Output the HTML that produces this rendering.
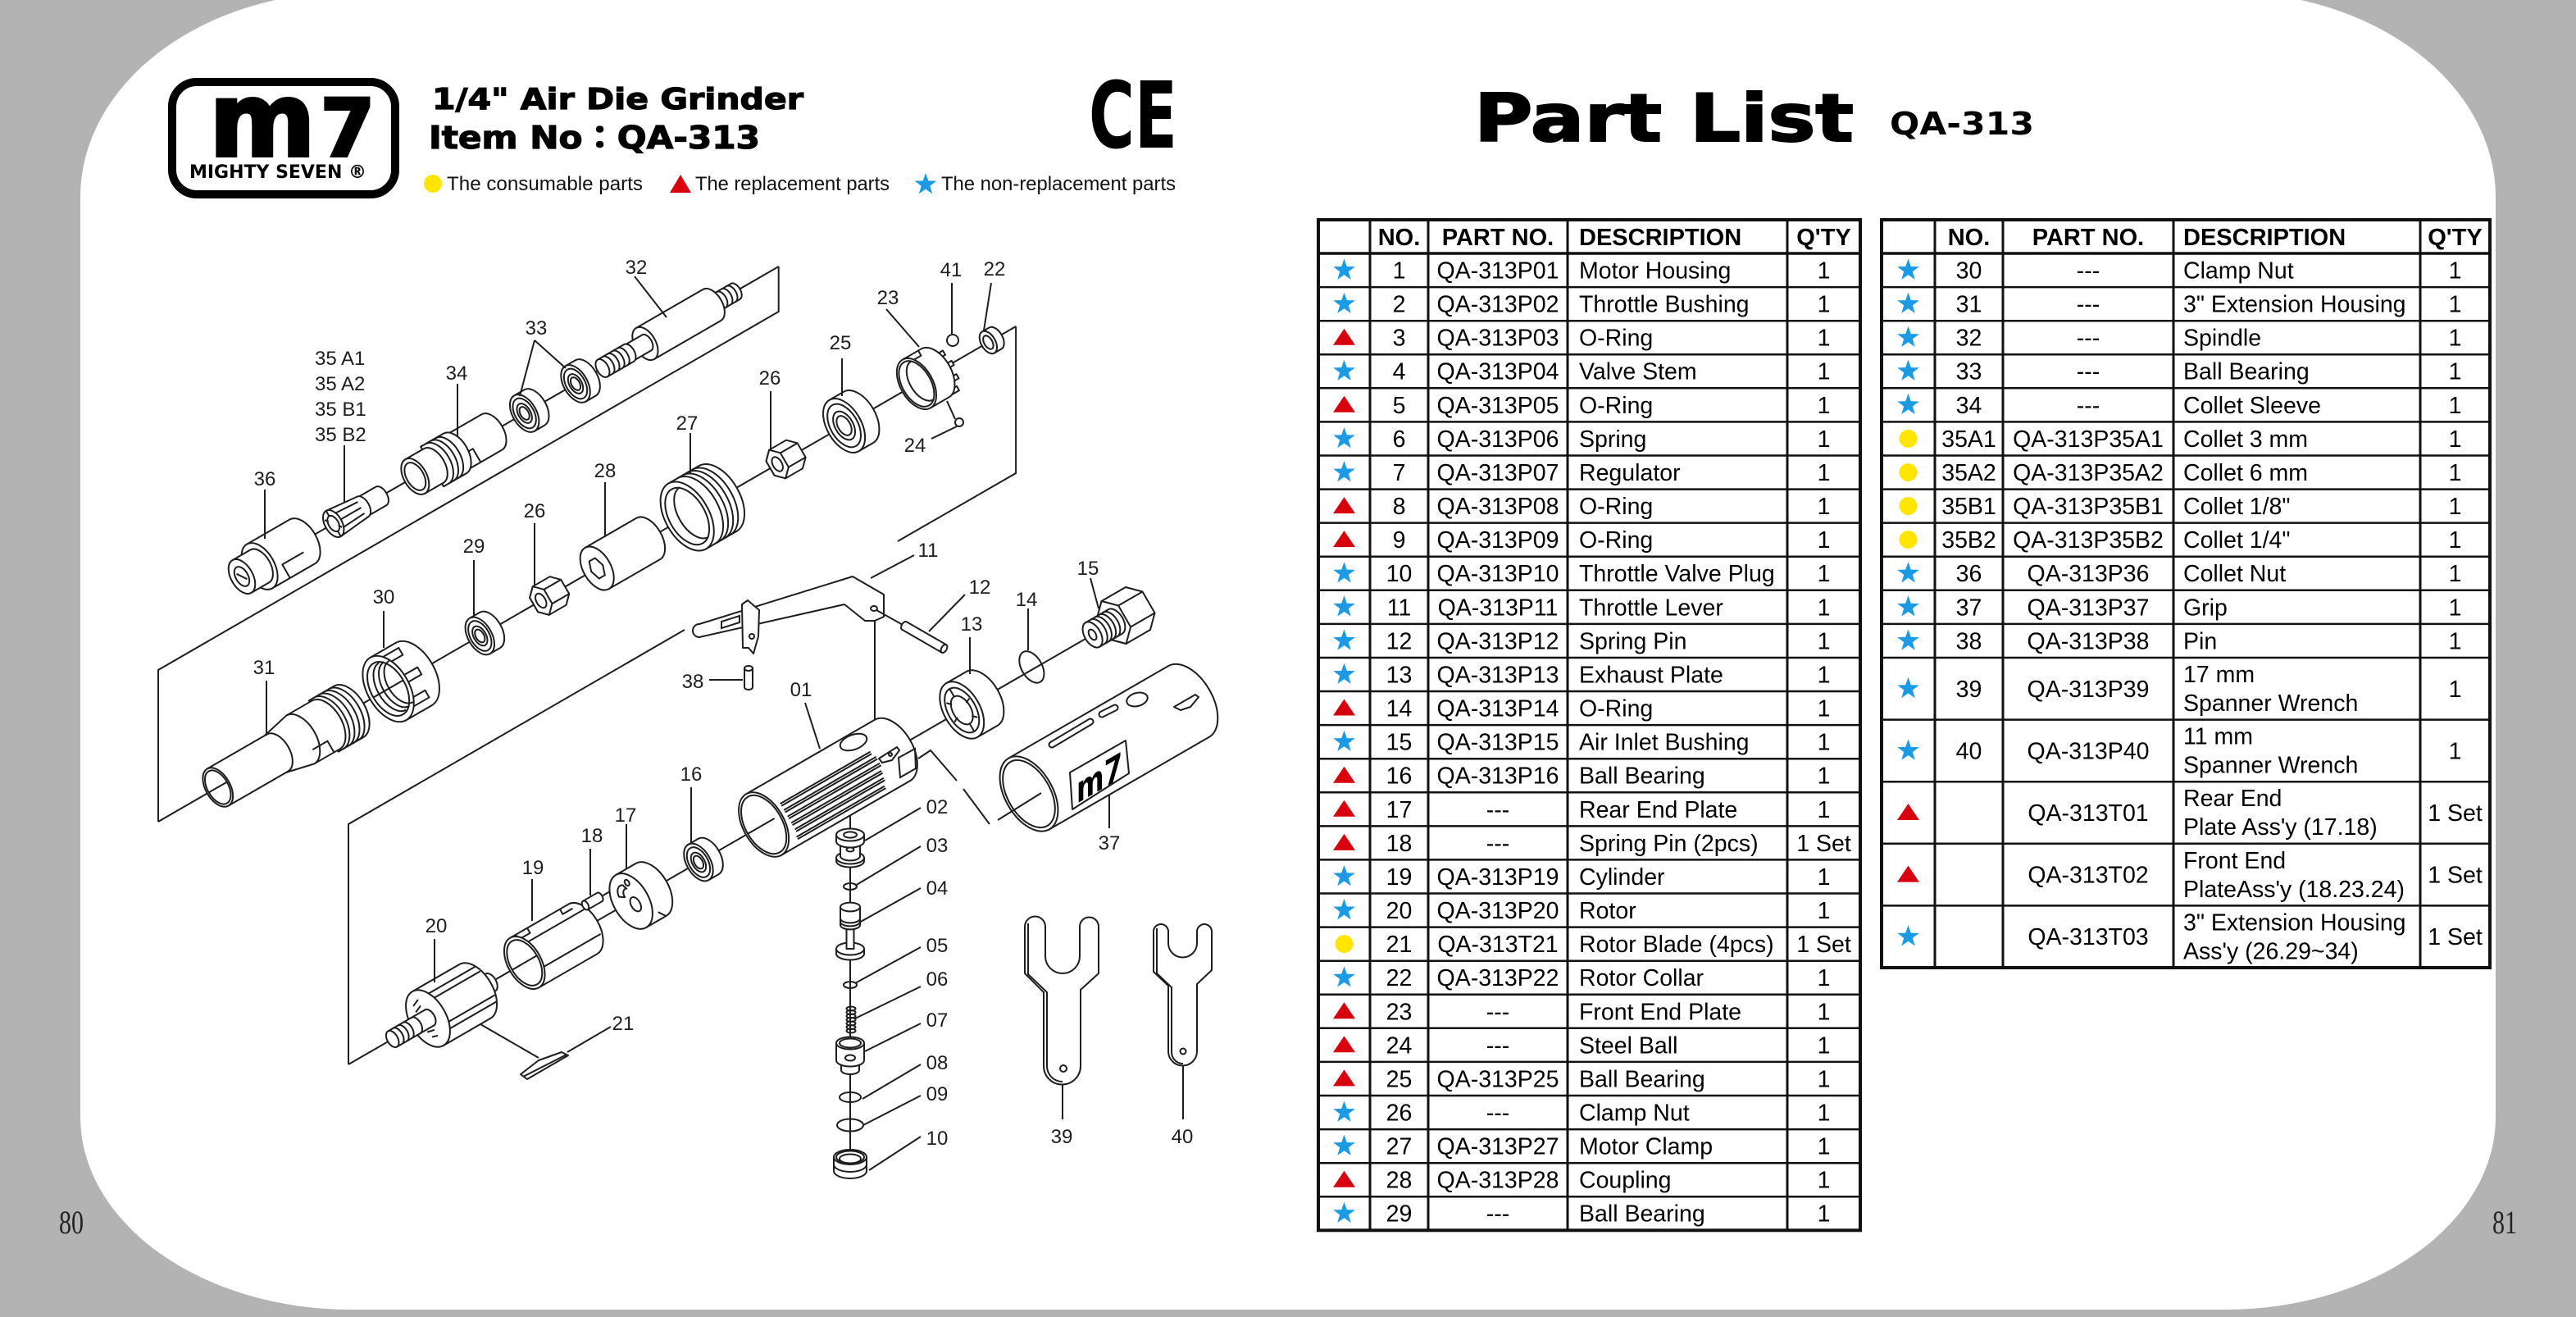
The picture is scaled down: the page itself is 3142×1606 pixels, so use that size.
<!DOCTYPE html>
<html><head><meta charset="utf-8">
<style>
html,body{margin:0;padding:0;width:3142px;height:1606px;overflow:hidden;background:#b3b3b3}
svg{display:block}
.d{fill:#fff;stroke:#1e1e1e;stroke-width:2;stroke-linejoin:round}
.n{fill:none;stroke:#1e1e1e;stroke-width:2}
.lbl{font-family:"Liberation Sans",Arial,sans-serif;font-size:24px;fill:#1e1e1e;text-anchor:middle}
.lbll{font-family:"Liberation Sans",Arial,sans-serif;font-size:24px;fill:#1e1e1e}
.t{font-family:"Liberation Sans",Arial,sans-serif;font-size:28.5px;fill:#000}
.c{text-anchor:middle}
.th{font-family:"Liberation Sans",Arial,sans-serif;font-size:29px;font-weight:bold;fill:#000}
</style></head>
<body>
<svg width="3142" height="1606" viewBox="0 0 3142 1606" xmlns="http://www.w3.org/2000/svg">
<defs>
<polygon id="star" points="0,-14 3.29,-4.53 13.31,-4.33 5.33,1.73 8.23,11.33 0,5.6 -8.23,11.33 -5.33,1.73 -13.31,-4.33 -3.29,-4.53" fill="#1c9be4"/>
<polygon id="tri" points="0,-11 13.5,9 -13.5,9" fill="#d7000f"/>
<circle id="dot" r="11" fill="#ffe500"/>
</defs>
<rect x="0" y="0" width="3142" height="1606" fill="#b3b3b3"/>
<path d="M98,240 A330,250 0 0 1 428,-10 L2714,-10 A330,250 0 0 1 3044,240 L3044,1362 A330,235 0 0 1 2714,1597 L428,1597 A330,235 0 0 1 98,1362 Z" fill="#fff"/>

<text x="72" y="1504" font-family="Liberation Serif, serif" font-size="40" fill="#222" textLength="30" lengthAdjust="spacingAndGlyphs">80</text>
<text x="3040" y="1504" font-family="Liberation Serif, serif" font-size="40" fill="#222" textLength="30" lengthAdjust="spacingAndGlyphs">81</text>

<rect x="210" y="100" width="272" height="137" rx="30" ry="30" fill="#fff" stroke="#000" stroke-width="10"/>
<text x="255" y="190" font-family="DejaVu Sans, sans-serif" font-weight="bold" font-size="125" fill="#000" stroke="#000" stroke-width="4" textLength="130" lengthAdjust="spacingAndGlyphs">m</text>
<text x="391" y="190" font-family="DejaVu Sans, sans-serif" font-weight="bold" font-size="96" fill="#000" stroke="#000" stroke-width="4" textLength="66" lengthAdjust="spacingAndGlyphs">7</text>
<text x="231" y="217" font-family="DejaVu Sans, sans-serif" font-weight="bold" font-size="22" fill="#000" textLength="216" lengthAdjust="spacingAndGlyphs">MIGHTY SEVEN ®</text>

<text x="527" y="133" font-family="DejaVu Sans, sans-serif" font-weight="bold" font-size="36" fill="#000" stroke="#000" stroke-width="1.2" textLength="453" lengthAdjust="spacingAndGlyphs">1/4&quot; Air Die Grinder</text>
<text x="523" y="181" font-family="DejaVu Sans, 'Noto Sans CJK JP', sans-serif" font-weight="bold" font-size="38" fill="#000" stroke="#000" stroke-width="1.2" textLength="404" lengthAdjust="spacingAndGlyphs">Item No：QA-313</text>
<text x="1328" y="180" font-family="DejaVu Sans, sans-serif" font-weight="bold" font-size="112" fill="#000" textLength="108" lengthAdjust="spacingAndGlyphs">CE</text>

<circle cx="528" cy="224" r="11" fill="#ffe500"/>
<text x="545" y="232" font-family="Liberation Sans, sans-serif" font-size="24" fill="#111" textLength="239" lengthAdjust="spacingAndGlyphs">The consumable parts</text>
<polygon points="830,213 843,235 817,235" fill="#d7000f"/>
<text x="848" y="232" font-family="Liberation Sans, sans-serif" font-size="24" fill="#111" textLength="237" lengthAdjust="spacingAndGlyphs">The replacement parts</text>
<use href="#star" x="1129" y="225"/>
<text x="1148" y="232" font-family="Liberation Sans, sans-serif" font-size="24" fill="#111" textLength="286" lengthAdjust="spacingAndGlyphs">The non-replacement parts</text>

<text x="1798" y="172" font-family="DejaVu Sans, sans-serif" font-weight="bold" font-size="80" fill="#000" stroke="#000" stroke-width="2" textLength="463" lengthAdjust="spacingAndGlyphs">Part List</text>
<text x="2305" y="164" font-family="DejaVu Sans, sans-serif" font-weight="bold" font-size="38" fill="#000" textLength="176" lengthAdjust="spacingAndGlyphs">QA-313</text>

<path class="n" d="M949.7,325V380L193,817V1002"/>
<path class="n" d="M1239.1,398V577L1095,660"/>
<path class="n" d="M835,768L425,1005V1298"/>
<path class="n" d="M1067,757V884"/>
<path class="n" d="M1037,994V1420"/>
<path class="n" d="M732,1094L756,1080"/>
<path class="n" d="M567,1238L657,1290"/>

<g class="d" transform="translate(295,703) rotate(-30)">
<line class="n" x1="0" y1="0" x2="756" y2="0"/>
<path d="M25,-31L85,-31A18,31 0 0 1 85,31L25,31Z"/>
<path class="n" d="M50,31L50,12L80,12"/>
<ellipse cx="25" cy="0" rx="18" ry="31"/>
<path d="M0,-23L25,-23A13.3,23 0 0 1 25,23L0,23Z"/>
<ellipse cx="0" cy="0" rx="13.3" ry="23"/>
<ellipse cx="0" cy="0" rx="7.5" ry="13"/>
<path class="n" d="M-4,-6L4,6"/>
<path d="M168,-13L196,-13A7.5,13 0 0 1 196,13L168,13Z"/>
<path d="M129,-18L170,-14A8.1,14 0 0 1 170,14L129,18Z"/>
<path class="n" d="M136,-10L168,-8M136,0L168,0M136,10L168,8"/>
<ellipse cx="129" cy="0" rx="10.4" ry="18"/>
<ellipse cx="129" cy="0" rx="6" ry="10.5"/>
<path class="n" d="M129,-18L129,-10.5M129,10.5L129,18M122,-9L125,-5M136,9L133,5"/>
<path d="M298,-25L352,-25A14.5,25 0 0 1 352,25L298,25Z"/>
<path class="n" d="M304,25L304,6L322,6L322,25"/>
<path d="M268,-28L300,-28A16.2,28 0 0 1 300,28L268,28Z"/>
<path class="n" d="M275,-28A16.2,28 0 0 1 275,28M282,-28A16.2,28 0 0 1 282,28M289,-28A16.2,28 0 0 1 289,28"/>
<path d="M244,-24L270,-24A13.9,24 0 0 1 270,24L244,24Z"/>
<ellipse cx="244" cy="0" rx="13.9" ry="24"/>
<ellipse cx="244" cy="0" rx="10.5" ry="18.5"/>
<path d="M398,-25L412,-25A14.5,25 0 0 1 412,25L398,25Z"/>
<ellipse cx="398" cy="0" rx="14.5" ry="25"/>
<ellipse class="n" cx="398" cy="0" rx="11.6" ry="20"/>
<ellipse class="n" cx="398" cy="0" rx="7.5" ry="13"/>
<ellipse class="n" cx="398" cy="0" rx="5" ry="8.6"/>
<path d="M470,-25L484,-25A14.5,25 0 0 1 484,25L470,25Z"/>
<ellipse cx="470" cy="0" rx="14.5" ry="25"/>
<ellipse class="n" cx="470" cy="0" rx="11.6" ry="20"/>
<ellipse class="n" cx="470" cy="0" rx="7.5" ry="13"/>
<ellipse class="n" cx="470" cy="0" rx="5" ry="8.6"/>
<path d="M660,-11L695,-11A6.4,11 0 0 1 695,11L660,11Z"/>
<path class="n" d="M668,-11A6.4,11 0 0 1 668,11M675,-11A6.4,11 0 0 1 675,11M682,-11A6.4,11 0 0 1 682,11M689,-11A6.4,11 0 0 1 689,11"/>
<path d="M568,-22L662,-22A12.8,22 0 0 1 662,22L568,22Z"/>
<ellipse cx="568" cy="0" rx="12.8" ry="22"/>
<path d="M540,-11L570,-11A6.4,11 0 0 1 570,11L540,11Z"/>
<path d="M508,-12L545,-12A7,12 0 0 1 545,12L508,12Z"/>
<path class="n" d="M515,-12A7,12 0 0 1 515,12M522,-12A7,12 0 0 1 522,12M529,-12A7,12 0 0 1 529,12M536,-12A7,12 0 0 1 536,12"/>
<ellipse cx="508" cy="0" rx="7" ry="12"/>
</g>

<g class="d" transform="translate(193,1002) rotate(-30)">
<line class="n" x1="0" y1="0" x2="1208" y2="0"/>
<path d="M233,-36L268,-36A20.9,36 0 0 1 268,36L233,36Z"/>
<path class="n" d="M240,-36A20.9,36 0 0 1 240,36M247,-36A20.9,36 0 0 1 247,36M254,-36A20.9,36 0 0 1 254,36M261,-36A20.9,36 0 0 1 261,36"/>
<path d="M165,-26L200,-34L236,-34A19.7,34 0 0 1 236,34L200,34L165,26Z"/>
<path class="n" d="M200,-34A19.7,34 0 0 1 200,34"/>
<path class="n" d="M207,18L228,18L228,34"/>
<path d="M84,-26L168,-26A15,26 0 0 1 168,26L84,26Z"/>
<ellipse cx="84" cy="0" rx="15" ry="26"/>
<ellipse cx="84" cy="0" rx="12.8" ry="22.5"/>
<line class="n" x1="71" y1="0" x2="96" y2="0"/>
<path d="M324,-44L360,-44A25.5,44 0 0 1 360,44L324,44Z"/>
<path class="n" d="M338,-37H360V-27H338ZM342,-5H368V5H342ZM338,24H362V34H338Z"/>
<ellipse cx="324" cy="0" rx="25.5" ry="44"/>
<ellipse class="n" cx="324" cy="0" rx="21" ry="36"/>
<path class="n" d="M330,-33A19,33 0 0 0 330,33M336,-31A18,31 0 0 0 336,31M342,-29A17,29 0 0 0 342,29"/>
<line class="n" x1="303" y1="0" x2="345" y2="0"/>
<path d="M453,-25L467,-25A14.5,25 0 0 1 467,25L453,25Z"/>
<ellipse cx="453" cy="0" rx="14.5" ry="25"/>
<ellipse class="n" cx="453" cy="0" rx="11.6" ry="20"/>
<ellipse class="n" cx="453" cy="0" rx="7.5" ry="13"/>
<ellipse class="n" cx="453" cy="0" rx="5" ry="8.6"/>
<path d="M539,20L529,10L529,-10L539,-20L563,-20L573,-10L573,10L563,20Z"/>
<path class="n" d="M549,-10L573,-10M549,10L573,10"/>
<path d="M539,20L529,10L529,-10L539,-20L549,-10L549,10Z"/>
<ellipse class="n" cx="539" cy="0" rx="5.5" ry="9.5"/>
<path d="M618,-29L690,-29A16.8,29 0 0 1 690,29L618,29Z"/>
<ellipse cx="618" cy="0" rx="16.8" ry="29"/>
<path class="n" d="M626.1,0L622.1,12.1L614,12.1L609.9,0L614,-12.1L622.1,-12.1Z"/>
<path d="M745,-46L788,-46A26.7,46 0 0 1 788,46L745,46Z"/>
<path class="n" d="M758,-46A26.7,46 0 0 1 758,46M765,-46A26.7,46 0 0 1 765,46M772,-46A26.7,46 0 0 1 772,46M779,-46A26.7,46 0 0 1 779,46"/>
<ellipse cx="745" cy="0" rx="26.7" ry="46"/>
<ellipse class="n" cx="745" cy="0" rx="22" ry="38"/>
<path class="n" d="M755,-35A20,35 0 0 0 755,35"/>
<path d="M872,20L862,10L862,-10L872,-20L896,-20L906,-10L906,10L896,20Z"/>
<path class="n" d="M882,-10L906,-10M882,10L906,10"/>
<path d="M872,20L862,10L862,-10L872,-20L882,-10L882,10Z"/>
<ellipse class="n" cx="872" cy="0" rx="5.5" ry="9.5"/>
<path d="M966,-36L986,-36A20.9,36 0 0 1 986,36L966,36Z"/>
<ellipse cx="966" cy="0" rx="20.9" ry="36"/>
<ellipse class="n" cx="966" cy="0" rx="16.7" ry="28.8"/>
<ellipse class="n" cx="966" cy="0" rx="11" ry="19"/>
<ellipse class="n" cx="966" cy="0" rx="7.5" ry="13"/>
<path d="M1106,-19h10v6h-10zM1109,-3h10v6h-10zM1106,14h10v6h-10zM1099,27h10v6h-10z"/>
<path d="M1068,-34L1094,-34A19.7,34 0 0 1 1094,34L1068,34Z"/>
<path class="n" d="M1075,-34L1075,-27L1090,-27L1090,-34"/>
<ellipse cx="1068" cy="0" rx="19.7" ry="34"/>
<ellipse class="n" cx="1068" cy="0" rx="17.5" ry="30.5"/>
<path class="n" d="M1076,-27A15.5,27 0 0 0 1076,27"/>
<path d="M1169,-15L1179,-15A8.7,15 0 0 1 1179,15L1169,15Z"/>
<ellipse cx="1169" cy="0" rx="8.7" ry="15"/>
<ellipse class="n" cx="1169" cy="0" rx="5" ry="9"/>
</g>

<g class="d" transform="translate(425,1298) rotate(-30)">
<line class="n" x1="0" y1="0" x2="1050" y2="0"/>
<path d="M176,-12L200,-12A7,12 0 0 1 200,12L176,12Z"/>
<path d="M112,-38L178,-38A22,38 0 0 1 178,38L112,38Z"/>
<path class="n" d="M112,-26L193,-26M112,-18L196,-18M112,16L197,16M112,24L195,24"/>
<ellipse cx="112" cy="0" rx="22" ry="38"/>
<path class="n" d="M104,-22L113,-26M103,-14L112,-18M103,14L112,16M105,22L112,24"/>
<path d="M90,-11L114,-11A6.4,11 0 0 1 114,11L90,11Z"/>
<path d="M62,-11L95,-11A6.4,11 0 0 1 95,11L62,11Z"/>
<path class="n" d="M69,-11A6.4,11 0 0 1 69,11M76,-11A6.4,11 0 0 1 76,11M83,-11A6.4,11 0 0 1 83,11"/>
<ellipse cx="62" cy="0" rx="6.4" ry="11"/>
<path d="M248,-35L330,-35A20.3,35 0 0 1 330,35L248,35Z"/>
<path class="n" d="M262,-20L345,-20M262,16L346,16M256,-35L256,-28L272,-28L272,-35M318,-35L318,-28L332,-28"/>
<ellipse cx="248" cy="0" rx="20.3" ry="35"/>
<ellipse class="n" cx="248" cy="0" rx="17.5" ry="30.5"/>
<line class="n" x1="231" y1="0" x2="265" y2="0"/>
<path d="M398,-37L426,-37A21.5,37 0 0 1 426,37L398,37Z"/>
<path class="n" d="M405,-37L405,-30M420,28L426,37"/>
<ellipse cx="398" cy="0" rx="21.5" ry="37"/>
<ellipse class="n" cx="401" cy="6" rx="5.5" ry="9.5"/>
<path class="n" d="M388,-12A8,13 0 0 1 399,-22L401,-16A5,8 0 0 0 394,-8Z"/>
<ellipse class="n" cx="405" cy="-22" rx="2.5" ry="4"/>
<path d="M493,-25L507,-25A14.5,25 0 0 1 507,25L493,25Z"/>
<ellipse cx="493" cy="0" rx="14.5" ry="25"/>
<ellipse class="n" cx="493" cy="0" rx="11.6" ry="20"/>
<ellipse class="n" cx="493" cy="0" rx="7.5" ry="13"/>
<ellipse class="n" cx="493" cy="0" rx="5" ry="8.6"/>
<path d="M585,-43L766,-43A25,43 0 0 1 766,43L585,43Z"/>
<path class="n" d="M615,-12H742M615,-9H742M615,-3H745M615,0H745M615,6H745M615,9H745M615,15H742M615,18H742M615,24H740M615,27H740M612,33H736M612,36H736"/>
<ellipse cx="585" cy="0" rx="25" ry="43"/>
<ellipse class="n" cx="585" cy="0" rx="22.5" ry="39"/>
<line class="n" x1="563" y1="0" x2="600" y2="0"/>
<path d="M864,-38L892,-38A22,38 0 0 1 892,38L864,38Z"/>
<ellipse cx="864" cy="0" rx="22" ry="38"/>
<ellipse class="n" cx="864" cy="0" rx="17" ry="30"/>
<ellipse class="n" cx="864" cy="0" rx="11" ry="19"/>
<path class="n" d="M864,-30L864,-19M864,19L864,30M852,-17L857,-12M876,17L871,12M849,8L855,5M879,-8L873,-5"/>
<ellipse class="n" cx="964" cy="-3" rx="12.5" ry="21"/>
<path d="M1078,30L1063,15L1063,-15L1078,-30L1112,-30L1127,-15L1127,15L1112,30Z"/>
<path class="n" d="M1093,-15L1127,-15M1093,15L1127,15"/>
<path d="M1078,30L1063,15L1063,-15L1078,-30L1093,-15L1093,15Z"/>
<path d="M1048,-17L1080,-17A9.9,17 0 0 1 1080,17L1048,17Z"/>
<path class="n" d="M1055,-17A9.9,17 0 0 1 1055,17M1061,-17A9.9,17 0 0 1 1061,17M1067,-17A9.9,17 0 0 1 1067,17M1073,-17A9.9,17 0 0 1 1073,17"/>
<ellipse cx="1048" cy="0" rx="9.9" ry="17"/>
<ellipse class="n" cx="1048" cy="0" rx="4" ry="7"/>
</g>

<ellipse class="d" cx="1041" cy="905" rx="17" ry="9" transform="rotate(-20 1041 905)"/>
<path class="d" d="M1072,925L1094,911L1097,915L1088,927L1076,930Z"/>
<circle class="n" cx="1086" cy="920" r="2"/>
<path class="n" d="M1096,924L1116,913L1117,937L1098,948Z"/>

<path class="d" d="M1020,1046L1020,1050A17,7.5 0 0 0 1054,1050L1054,1046Z"/>
<ellipse class="d" cx="1037" cy="1046" rx="17" ry="7.5"/>
<path class="d" d="M1025,1026L1025,1044A12,5.4 0 0 0 1049,1044L1049,1026Z"/>
<ellipse class="n" cx="1037" cy="1036" rx="4.5" ry="2.5"/>
<path class="d" d="M1020,1018L1020,1026A17,7.5 0 0 0 1054,1026L1054,1018Z"/>
<ellipse class="d" cx="1037" cy="1018" rx="17" ry="7.5"/>
<ellipse class="n" cx="1037" cy="1018" rx="8" ry="3.6"/>
<ellipse class="n" cx="1037" cy="1081" rx="8" ry="4"/>
<path class="d" d="M1020,1157L1020,1163A17,7.5 0 0 0 1054,1163L1054,1157Z"/>
<ellipse class="d" cx="1037" cy="1157" rx="17" ry="7.5"/>
<path class="d" d="M1032.5,1130V1157H1041.5V1130Z"/>
<path class="d" d="M1025,1106L1025,1128A12,5.4 0 0 0 1049,1128L1049,1106Z"/>
<ellipse class="d" cx="1037" cy="1106" rx="12" ry="5.4"/>
<path class="n" d="M1025,1120A12,5.4 0 0 0 1049,1120M1025,1124A12,5.4 0 0 0 1049,1124"/>
<ellipse class="n" cx="1037" cy="1201" rx="8" ry="4"/>
<g class="n">
<ellipse cx="1038" cy="1230" rx="5.5" ry="2.5"/><ellipse cx="1038" cy="1234.5" rx="5.5" ry="2.5"/><ellipse cx="1038" cy="1239" rx="5.5" ry="2.5"/><ellipse cx="1038" cy="1243.5" rx="5.5" ry="2.5"/><ellipse cx="1038" cy="1248" rx="5.5" ry="2.5"/><ellipse cx="1038" cy="1252.5" rx="5.5" ry="2.5"/><ellipse cx="1038" cy="1257" rx="5.5" ry="2.5"/>
</g>
<path class="d" d="M1026,1293L1026,1305A11,5 0 0 0 1048,1305L1048,1293Z"/>
<path class="d" d="M1020,1272L1020,1293A17,7.5 0 0 0 1054,1293L1054,1272Z"/>
<ellipse class="d" cx="1037" cy="1272" rx="17" ry="7.5"/>
<ellipse class="n" cx="1037" cy="1272" rx="13" ry="5.5"/>
<ellipse class="n" cx="1037" cy="1290" rx="6" ry="3.5"/>
<ellipse class="n" cx="1037" cy="1338" rx="13" ry="6"/>
<ellipse class="n" cx="1037" cy="1372" rx="16" ry="7.5"/>
<path class="d" d="M1017,1411L1017,1428A20,9 0 0 0 1057,1428L1057,1411Z"/>
<path class="n" d="M1017,1420A20,9 0 0 0 1057,1420"/>
<ellipse class="d" cx="1037" cy="1411" rx="20" ry="9"/>
<ellipse class="n" cx="1037" cy="1411" rx="17" ry="7.5"/>
<ellipse class="n" cx="1037" cy="1413" rx="13" ry="5.5"/>

<path class="d" d="M853,761L1040,703L1078,725L1078,752L1067,757L1055,757L1030,737L853,777A8,8 0 0 1 853,761Z"/>
<path class="d" d="M905,737L912,732L926,744L925,776L919,797L913,790L906,790Z"/>
<path class="n" d="M880,758L902,751L902,759L880,766Z"/>
<circle class="n" cx="917" cy="776" r="3"/>
<ellipse class="n" cx="1066" cy="742" rx="4" ry="3"/>
<line class="n" x1="1069" y1="744" x2="1103" y2="763"/>
<g class="d" transform="translate(1103,763) rotate(30)"><path d="M0,-5.5L56,-5.5L56,5.5L0,5.5A3.2,5.5 0 0 1 0,-5.5Z"/><ellipse cx="56" cy="0" rx="3.2" ry="5.5"/></g>
<path class="d" d="M908,815V838A5,3 0 0 0 918,838V815Z"/>
<ellipse class="d" cx="913" cy="815" rx="5" ry="3"/>
<g class="d" transform="translate(714,1104) rotate(-30)"><path d="M0,-6L20,-6A3.5,6 0 0 1 20,6L0,6Z"/><ellipse cx="0" cy="0" rx="3.5" ry="6"/></g>
<circle class="d" cx="1162" cy="415" r="7"/>
<circle class="d" cx="1170" cy="515" r="5"/>
<path class="d" d="M635,1310L657,1293L685,1283L693,1287L643,1316Z"/>
<path class="n" d="M638,1313L691,1286"/>

<path class="n" d="M1120,925L1135,915L1167,952M1175,962L1207,1005"/>
<g class="d" transform="translate(1255,968) rotate(-30)"><path d="M0,-50L225,-50A29,50 0 0 1 225,50L0,50Z"/><ellipse cx="0" cy="0" rx="29" ry="50"/><ellipse class="n" cx="0" cy="0" rx="26" ry="45"/></g>
<line class="n" x1="1217" y1="1000" x2="1270" y2="967"/>
<path d="M1283,908L1330,880" stroke="#1e1e1e" stroke-width="9" stroke-linecap="round" fill="none"/>
<path d="M1283,908L1330,880" stroke="#fff" stroke-width="5" stroke-linecap="round" fill="none"/>
<path d="M1344,871L1360,863" stroke="#1e1e1e" stroke-width="9" stroke-linecap="round" fill="none"/>
<path d="M1344,871L1360,863" stroke="#fff" stroke-width="5" stroke-linecap="round" fill="none"/>
<ellipse class="d" cx="1387" cy="853" rx="13" ry="8" transform="rotate(-15 1387 853)"/>
<path class="d" d="M1432,862L1458,847L1462,850L1452,862L1440,866Z"/>
<path class="d" d="M1305,942L1373,903L1377,943L1308,987Z"/>
<text transform="matrix(1,-0.577,0,1,1341,964)" text-anchor="middle" font-family="DejaVu Sans, sans-serif" font-weight="bold" font-size="44" fill="#000" textLength="56" lengthAdjust="spacingAndGlyphs">m7</text>

<path class="d" d="M1250,1187L1250,1130A12.5,12.5 0 0 1 1275,1130L1275,1166A21,21 0 0 0 1317,1166L1317,1130A11.5,11.5 0 0 1 1340,1130L1340,1187L1318,1207L1318,1300A22.5,22.5 0 0 1 1273,1300L1273,1210Z"/>
<path class="n" d="M1254,1126L1254,1188L1277,1210L1277,1300A19,19 0 0 0 1296,1319"/>
<circle class="n" cx="1297" cy="1303" r="4"/>
<path class="d" d="M1407,1185L1407,1136A9,9 0 0 1 1425,1136L1425,1150A17.5,17.5 0 0 0 1460,1150L1460,1136A9,9 0 0 1 1478,1136L1478,1183L1460,1200L1460,1282A17.5,17.5 0 0 1 1425,1282L1425,1202Z"/>
<path class="n" d="M1411,1132L1411,1187L1429,1204L1429,1283A14,14 0 0 0 1443,1297"/>
<circle class="n" cx="1443" cy="1282" r="3.5"/>

<path class="n" d="M1161,345V407M1165,511L1155,489M1167,520L1136,535M1081,377L1121,423M1209,345L1200,403M1027,437V483M940,477V547M842,528V577M738,588V655M652,638V714M578,683V751M468,745V790M325,830V897M323,597V657M420,543V612M558,468V533M652,415L634,483M652,415L690,449M774,337L813,387M1115,677L1062,705M1177,725L1133,770M1183,777V822M1254,742V793M1330,705L1340,742M865,829H906M982,857L1000,913M843,960V1028M764,1005V1060M720,1035V1092M649,1072V1123M530,1145V1198M745,1252L692,1283M1353,970V1010M1123,985L1055,1025M1123,1032L1043,1080M1123,1083L1048,1125M1123,1155L1043,1199M1123,1203L1043,1242M1123,1248L1055,1282M1123,1298L1052,1340M1123,1336L1053,1372M1123,1386L1060,1427M1296,1323V1365M1443,1300V1365"/>

<g class="lbl">
<text x="776" y="334">32</text>
<text x="654" y="408">33</text>
<text x="557" y="463">34</text>
<text x="323" y="592">36</text>
<text x="1160" y="337">41</text>
<text x="1213" y="336">22</text>
<text x="1083" y="371">23</text>
<text x="1025" y="426">25</text>
<text x="939" y="469">26</text>
<text x="838" y="524">27</text>
<text x="738" y="582">28</text>
<text x="1116" y="551">24</text>
<text x="652" y="631">26</text>
<text x="578" y="674">29</text>
<text x="468" y="736">30</text>
<text x="322" y="822">31</text>
<text x="1132" y="679">11</text>
<text x="1195" y="724">12</text>
<text x="1185" y="769">13</text>
<text x="1252" y="739">14</text>
<text x="1327" y="701">15</text>
<text x="845" y="839">38</text>
<text x="977" y="849">01</text>
<text x="843" y="952">16</text>
<text x="763" y="1002">17</text>
<text x="722" y="1027">18</text>
<text x="650" y="1066">19</text>
<text x="532" y="1137">20</text>
<text x="760" y="1256">21</text>
<text x="1353" y="1036">37</text>
<text x="1143" y="992">02</text>
<text x="1143" y="1039">03</text>
<text x="1143" y="1091">04</text>
<text x="1143" y="1161">05</text>
<text x="1143" y="1202">06</text>
<text x="1143" y="1252">07</text>
<text x="1143" y="1304">08</text>
<text x="1143" y="1342">09</text>
<text x="1143" y="1396">10</text>
<text x="1295" y="1394">39</text>
<text x="1442" y="1394">40</text>
</g>
<g class="lbll">
<text x="384" y="445">35 A1</text>
<text x="384" y="476">35 A2</text>
<text x="384" y="507">35 B1</text>
<text x="384" y="538">35 B2</text>
</g>

<g fill="none" stroke="#111">
<path stroke-width="2.5" d="M1608,350.1H2269M1608,391.2H2269M1608,432.2H2269M1608,473.3H2269M1608,514.4H2269M1608,555.5H2269M1608,596.6H2269M1608,637.6H2269M1608,678.7H2269M1608,719.8H2269M1608,760.9H2269M1608,802H2269M1608,843H2269M1608,884.1H2269M1608,925.2H2269M1608,966.3H2269M1608,1007.4H2269M1608,1048.4H2269M1608,1089.5H2269M1608,1130.6H2269M1608,1171.7H2269M1608,1212.8H2269M1608,1253.8H2269M1608,1294.9H2269M1608,1336H2269M1608,1377.1H2269M1608,1418.2H2269M1608,1459.2H2269"/>
<path stroke-width="3.5" d="M1608,309H2269M2295,309H3037"/>
<path stroke-width="3" d="M1671,268V1500.3M1742,268V1500.3M1912,268V1500.3M2180,268V1500.3"/>
<rect x="1608" y="268" width="661" height="1232.3" stroke-width="4"/>
<path stroke-width="2.5" d="M2295,350.1H3037M2295,391.2H3037M2295,432.2H3037M2295,473.3H3037M2295,514.4H3037M2295,555.5H3037M2295,596.6H3037M2295,637.6H3037M2295,678.7H3037M2295,719.8H3037M2295,760.9H3037M2295,802H3037M2295,877.6H3037M2295,953.2H3037M2295,1028.8H3037M2295,1104.4H3037"/>
<path stroke-width="3" d="M2360,268V1180M2443,268V1180M2651,268V1180M2952,268V1180"/>
<rect x="2295" y="268" width="742" height="912" stroke-width="4"/>
</g>

<g class="th">
<text x="1706.5" y="299" text-anchor="middle">NO.</text>
<text x="1827" y="299" text-anchor="middle">PART NO.</text>
<text x="1926" y="299">DESCRIPTION</text>
<text x="2224.5" y="299" text-anchor="middle">Q'TY</text>
<text x="2401.5" y="299" text-anchor="middle">NO.</text>
<text x="2547" y="299" text-anchor="middle">PART NO.</text>
<text x="2663" y="299">DESCRIPTION</text>
<text x="2994.5" y="299" text-anchor="middle">Q'TY</text>
</g>

<use href="#star" x="1639.5" y="329.5"/>
<use href="#star" x="1639.5" y="370.6"/>
<use href="#tri" x="1639.5" y="411.7"/>
<use href="#star" x="1639.5" y="452.7"/>
<use href="#tri" x="1639.5" y="493.8"/>
<use href="#star" x="1639.5" y="534.9"/>
<use href="#star" x="1639.5" y="576"/>
<use href="#tri" x="1639.5" y="617.1"/>
<use href="#tri" x="1639.5" y="658.1"/>
<use href="#star" x="1639.5" y="699.2"/>
<use href="#star" x="1639.5" y="740.3"/>
<use href="#star" x="1639.5" y="781.4"/>
<use href="#star" x="1639.5" y="822.5"/>
<use href="#tri" x="1639.5" y="863.5"/>
<use href="#star" x="1639.5" y="904.6"/>
<use href="#tri" x="1639.5" y="945.7"/>
<use href="#tri" x="1639.5" y="986.8"/>
<use href="#tri" x="1639.5" y="1027.9"/>
<use href="#star" x="1639.5" y="1068.9"/>
<use href="#star" x="1639.5" y="1110"/>
<use href="#dot" x="1639.5" y="1151.1"/>
<use href="#star" x="1639.5" y="1192.2"/>
<use href="#tri" x="1639.5" y="1233.3"/>
<use href="#tri" x="1639.5" y="1274.3"/>
<use href="#tri" x="1639.5" y="1315.4"/>
<use href="#star" x="1639.5" y="1356.5"/>
<use href="#star" x="1639.5" y="1397.6"/>
<use href="#tri" x="1639.5" y="1438.7"/>
<use href="#star" x="1639.5" y="1479.7"/>

<g class="t c">
<text x="1706.5" y="339.5">1</text><text x="1706.5" y="380.6">2</text><text x="1706.5" y="421.7">3</text><text x="1706.5" y="462.7">4</text><text x="1706.5" y="503.8">5</text><text x="1706.5" y="544.9">6</text><text x="1706.5" y="586">7</text><text x="1706.5" y="627.1">8</text><text x="1706.5" y="668.1">9</text><text x="1706.5" y="709.2">10</text><text x="1706.5" y="750.3">11</text><text x="1706.5" y="791.4">12</text><text x="1706.5" y="832.5">13</text><text x="1706.5" y="873.5">14</text><text x="1706.5" y="914.6">15</text><text x="1706.5" y="955.7">16</text><text x="1706.5" y="996.8">17</text><text x="1706.5" y="1037.9">18</text><text x="1706.5" y="1078.9">19</text><text x="1706.5" y="1120">20</text><text x="1706.5" y="1161.1">21</text><text x="1706.5" y="1202.2">22</text><text x="1706.5" y="1243.3">23</text><text x="1706.5" y="1284.3">24</text><text x="1706.5" y="1325.4">25</text><text x="1706.5" y="1366.5">26</text><text x="1706.5" y="1407.6">27</text><text x="1706.5" y="1448.7">28</text><text x="1706.5" y="1489.7">29</text>
</g>
<g class="t c">
<text x="1827" y="339.5">QA-313P01</text><text x="1827" y="380.6">QA-313P02</text><text x="1827" y="421.7">QA-313P03</text><text x="1827" y="462.7">QA-313P04</text><text x="1827" y="503.8">QA-313P05</text><text x="1827" y="544.9">QA-313P06</text><text x="1827" y="586">QA-313P07</text><text x="1827" y="627.1">QA-313P08</text><text x="1827" y="668.1">QA-313P09</text><text x="1827" y="709.2">QA-313P10</text><text x="1827" y="750.3">QA-313P11</text><text x="1827" y="791.4">QA-313P12</text><text x="1827" y="832.5">QA-313P13</text><text x="1827" y="873.5">QA-313P14</text><text x="1827" y="914.6">QA-313P15</text><text x="1827" y="955.7">QA-313P16</text><text x="1827" y="996.8">---</text><text x="1827" y="1037.9">---</text><text x="1827" y="1078.9">QA-313P19</text><text x="1827" y="1120">QA-313P20</text><text x="1827" y="1161.1">QA-313T21</text><text x="1827" y="1202.2">QA-313P22</text><text x="1827" y="1243.3">---</text><text x="1827" y="1284.3">---</text><text x="1827" y="1325.4">QA-313P25</text><text x="1827" y="1366.5">---</text><text x="1827" y="1407.6">QA-313P27</text><text x="1827" y="1448.7">QA-313P28</text><text x="1827" y="1489.7">---</text>
</g>
<g class="t">
<text x="1926" y="339.5">Motor Housing</text><text x="1926" y="380.6">Throttle Bushing</text><text x="1926" y="421.7">O-Ring</text><text x="1926" y="462.7">Valve Stem</text><text x="1926" y="503.8">O-Ring</text><text x="1926" y="544.9">Spring</text><text x="1926" y="586">Regulator</text><text x="1926" y="627.1">O-Ring</text><text x="1926" y="668.1">O-Ring</text><text x="1926" y="709.2">Throttle Valve Plug</text><text x="1926" y="750.3">Throttle Lever</text><text x="1926" y="791.4">Spring Pin</text><text x="1926" y="832.5">Exhaust Plate</text><text x="1926" y="873.5">O-Ring</text><text x="1926" y="914.6">Air Inlet Bushing</text><text x="1926" y="955.7">Ball Bearing</text><text x="1926" y="996.8">Rear End Plate</text><text x="1926" y="1037.9">Spring Pin (2pcs)</text><text x="1926" y="1078.9">Cylinder</text><text x="1926" y="1120">Rotor</text><text x="1926" y="1161.1">Rotor Blade (4pcs)</text><text x="1926" y="1202.2">Rotor Collar</text><text x="1926" y="1243.3">Front End Plate</text><text x="1926" y="1284.3">Steel Ball</text><text x="1926" y="1325.4">Ball Bearing</text><text x="1926" y="1366.5">Clamp Nut</text><text x="1926" y="1407.6">Motor Clamp</text><text x="1926" y="1448.7">Coupling</text><text x="1926" y="1489.7">Ball Bearing</text>
</g>
<g class="t c">
<text x="2224.5" y="339.5">1</text><text x="2224.5" y="380.6">1</text><text x="2224.5" y="421.7">1</text><text x="2224.5" y="462.7">1</text><text x="2224.5" y="503.8">1</text><text x="2224.5" y="544.9">1</text><text x="2224.5" y="586">1</text><text x="2224.5" y="627.1">1</text><text x="2224.5" y="668.1">1</text><text x="2224.5" y="709.2">1</text><text x="2224.5" y="750.3">1</text><text x="2224.5" y="791.4">1</text><text x="2224.5" y="832.5">1</text><text x="2224.5" y="873.5">1</text><text x="2224.5" y="914.6">1</text><text x="2224.5" y="955.7">1</text><text x="2224.5" y="996.8">1</text><text x="2224.5" y="1037.9">1 Set</text><text x="2224.5" y="1078.9">1</text><text x="2224.5" y="1120">1</text><text x="2224.5" y="1161.1">1 Set</text><text x="2224.5" y="1202.2">1</text><text x="2224.5" y="1243.3">1</text><text x="2224.5" y="1284.3">1</text><text x="2224.5" y="1325.4">1</text><text x="2224.5" y="1366.5">1</text><text x="2224.5" y="1407.6">1</text><text x="2224.5" y="1448.7">1</text><text x="2224.5" y="1489.7">1</text>
</g>

<use href="#star" x="2327.5" y="329.5"/>
<use href="#star" x="2327.5" y="370.6"/>
<use href="#star" x="2327.5" y="411.7"/>
<use href="#star" x="2327.5" y="452.7"/>
<use href="#star" x="2327.5" y="493.8"/>
<use href="#dot" x="2327.5" y="534.9"/>
<use href="#dot" x="2327.5" y="576"/>
<use href="#dot" x="2327.5" y="617.1"/>
<use href="#dot" x="2327.5" y="658.1"/>
<use href="#star" x="2327.5" y="699.2"/>
<use href="#star" x="2327.5" y="740.3"/>
<use href="#star" x="2327.5" y="781.4"/>
<use href="#star" x="2327.5" y="839.8"/>
<use href="#star" x="2327.5" y="915.4"/>
<use href="#tri" x="2327.5" y="991"/>
<use href="#tri" x="2327.5" y="1066.6"/>
<use href="#star" x="2327.5" y="1142.2"/>

<g class="t c">
<text x="2401.5" y="339.5">30</text><text x="2401.5" y="380.6">31</text><text x="2401.5" y="421.7">32</text><text x="2401.5" y="462.7">33</text><text x="2401.5" y="503.8">34</text><text x="2401.5" y="544.9">35A1</text><text x="2401.5" y="586">35A2</text><text x="2401.5" y="627.1">35B1</text><text x="2401.5" y="668.1">35B2</text><text x="2401.5" y="709.2">36</text><text x="2401.5" y="750.3">37</text><text x="2401.5" y="791.4">38</text><text x="2401.5" y="849.8">39</text><text x="2401.5" y="925.4">40</text>
</g>
<g class="t c">
<text x="2547" y="339.5">---</text><text x="2547" y="380.6">---</text><text x="2547" y="421.7">---</text><text x="2547" y="462.7">---</text><text x="2547" y="503.8">---</text><text x="2547" y="544.9">QA-313P35A1</text><text x="2547" y="586">QA-313P35A2</text><text x="2547" y="627.1">QA-313P35B1</text><text x="2547" y="668.1">QA-313P35B2</text><text x="2547" y="709.2">QA-313P36</text><text x="2547" y="750.3">QA-313P37</text><text x="2547" y="791.4">QA-313P38</text><text x="2547" y="849.8">QA-313P39</text><text x="2547" y="925.4">QA-313P40</text><text x="2547" y="1001">QA-313T01</text><text x="2547" y="1076.6">QA-313T02</text><text x="2547" y="1152.2">QA-313T03</text>
</g>
<g class="t">
<text x="2663" y="339.5">Clamp Nut</text><text x="2663" y="380.6">3&quot; Extension Housing</text><text x="2663" y="421.7">Spindle</text><text x="2663" y="462.7">Ball Bearing</text><text x="2663" y="503.8">Collet Sleeve</text><text x="2663" y="544.9">Collet 3 mm</text><text x="2663" y="586">Collet 6 mm</text><text x="2663" y="627.1">Collet 1/8&quot;</text><text x="2663" y="668.1">Collet 1/4&quot;</text><text x="2663" y="709.2">Collet Nut</text><text x="2663" y="750.3">Grip</text><text x="2663" y="791.4">Pin</text>
<text x="2663" y="832">17 mm</text><text x="2663" y="867">Spanner Wrench</text>
<text x="2663" y="907.6">11 mm</text><text x="2663" y="942.6">Spanner Wrench</text>
<text x="2663" y="983.2">Rear End</text><text x="2663" y="1018.2">Plate Ass'y (17.18)</text>
<text x="2663" y="1058.8">Front End</text><text x="2663" y="1093.8">PlateAss'y (18.23.24)</text>
<text x="2663" y="1134.4">3&quot; Extension Housing</text><text x="2663" y="1169.4">Ass'y (26.29~34)</text>
</g>
<g class="t c">
<text x="2994.5" y="339.5">1</text><text x="2994.5" y="380.6">1</text><text x="2994.5" y="421.7">1</text><text x="2994.5" y="462.7">1</text><text x="2994.5" y="503.8">1</text><text x="2994.5" y="544.9">1</text><text x="2994.5" y="586">1</text><text x="2994.5" y="627.1">1</text><text x="2994.5" y="668.1">1</text><text x="2994.5" y="709.2">1</text><text x="2994.5" y="750.3">1</text><text x="2994.5" y="791.4">1</text><text x="2994.5" y="849.8">1</text><text x="2994.5" y="925.4">1</text><text x="2994.5" y="1001">1 Set</text><text x="2994.5" y="1076.6">1 Set</text><text x="2994.5" y="1152.2">1 Set</text>
</g>
</svg>
</body></html>
